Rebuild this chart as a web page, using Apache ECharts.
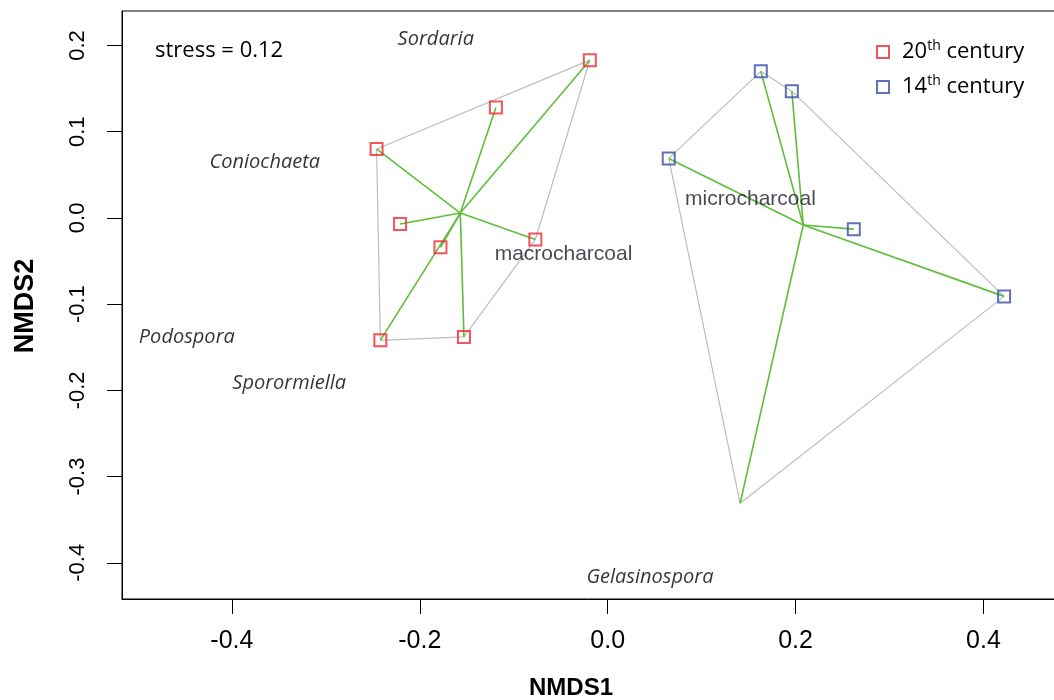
<!DOCTYPE html>
<html>
<head>
<meta charset="utf-8">
<script src="https://cdn.jsdelivr.net/npm/echarts@6/dist/echarts.min.js"></script>
<style>html,body{margin:0;padding:0;background:#fff}#c{width:1054px;height:700px}</style>
</head>
<body>
<div id="c"></div>
<script>
// ---- Data ----
// 20th century sites (NMDS1, NMDS2)
var c20x = [-0.019, -0.119, -0.246, -0.221, -0.178, -0.077, -0.242, -0.153];
var c20y = [0.183, 0.128, 0.080, -0.007, -0.034, -0.025, -0.142, -0.138];
// 14th century sites with a visible marker
var c14x = [0.163, 0.196, 0.065, 0.262, 0.422];
var c14y = [0.170, 0.147, 0.069, -0.013, -0.091];
// 14th century site drawn without a marker (hull/spider vertex only)
var c14xExtra = [0.141];
var c14yExtra = [-0.331];
// Species scores (labels)
var speciesNames = ['Sordaria', 'Coniochaeta', 'Podospora', 'Sporormiella', 'Gelasinospora'];
var speciesX = [-0.183, -0.365, -0.448, -0.339, 0.045];
var speciesY = [0.207, 0.064, -0.139, -0.192, -0.417];
// Environmental vector labels
var envNames = ['macrocharcoal', 'microcharcoal'];
var envX = [-0.047, 0.152];
var envY = [-0.042, 0.022];
// Tick labels
var xTicks = [-0.4, -0.2, 0.0, 0.2, 0.4];
var yTicks = [-0.4, -0.3, -0.2, -0.1, 0.0, 0.1, 0.2];
var legendNames = ['20th century', '14th century'];

// ---- helpers ----
function pts(xs, ys) { return xs.map(function (x, i) { return [x, ys[i]]; }); }
function centroid(p) {
  var sx = 0, sy = 0;
  p.forEach(function (q) { sx += q[0]; sy += q[1]; });
  return [sx / p.length, sy / p.length];
}
function hull(p) {
  var a = p.slice().sort(function (u, v) { return u[0] - v[0] || u[1] - v[1]; });
  function cross(o, u, v) { return (u[0] - o[0]) * (v[1] - o[1]) - (u[1] - o[1]) * (v[0] - o[0]); }
  var lower = [], upper = [];
  a.forEach(function (q) {
    while (lower.length >= 2 && cross(lower[lower.length - 2], lower[lower.length - 1], q) <= 0) lower.pop();
    lower.push(q);
  });
  for (var i = a.length - 1; i >= 0; i--) {
    var q = a[i];
    while (upper.length >= 2 && cross(upper[upper.length - 2], upper[upper.length - 1], q) <= 0) upper.pop();
    upper.push(q);
  }
  upper.pop(); lower.pop();
  var h = lower.concat(upper);
  h.push(h[0]);
  return h;
}

var p20 = pts(c20x, c20y);
var p14m = pts(c14x, c14y);
var p14 = p14m.concat(pts(c14xExtra, c14yExtra));
var cen20 = centroid(p20), cen14 = centroid(p14);

var RED = '#ee2a30', BLUE = '#3a4ca6', GREEN = '#5fbd3a', GRAY = '#bdbdbd';

var chart = echarts.init(document.getElementById('c'), null, { renderer: 'canvas' });
var rich = { sup: { fontSize: 14, verticalAlign: 'top', lineHeight: 26, fontFamily: 'Open Sans', color: '#000' } };

chart.setOption({
  animation: false,
  backgroundColor: '#fff',
  grid: { left: 122, top: 11, width: 946, height: 588, outerBoundsMode: 'none', containLabel: false,
    show: true, borderColor: '#000', borderWidth: 1, backgroundColor: 'transparent' },
  xAxis: {
    type: 'value', min: -0.517, max: 0.49,
    axisLine: { show: true, onZero: false, lineStyle: { color: '#000', width: 1 } },
    axisTick: { show: true, length: 15, lineStyle: { color: '#000' }, customValues: xTicks },
    axisLabel: { customValues: xTicks, fontSize: 25, fontFamily: 'Liberation Sans', color: '#000', margin: 30,
      formatter: function (v) { return v.toFixed(1); } },
    splitLine: { show: false }
  },
  yAxis: {
    type: 'value', min: -0.442, max: 0.24,
    axisLine: { show: true, onZero: false, lineStyle: { color: '#000', width: 1 } },
    axisTick: { show: true, length: 15, lineStyle: { color: '#000' }, customValues: yTicks },
    axisLabel: { customValues: yTicks, fontSize: 22, fontFamily: 'Liberation Sans', color: '#000', margin: 33, rotate: 90,
      formatter: function (v) { return v.toFixed(1); } },
    splitLine: { show: false }
  },
  legend: {
    orient: 'vertical', left: 871, top: 34, itemWidth: 12, itemHeight: 12, itemGap: 9,
    data: legendNames,
    formatter: function (n) { return n.replace(/^(\d+)th/, '$1{sup|th}'); },
    textStyle: { fontFamily: 'Open Sans', fontSize: 22, color: '#000', lineHeight: 26, padding: [0, 0, 0, 8], rich: rich }
  },
  graphic: [
    { type: 'text', left: 155, top: 40, style: { text: 'stress = 0.12', font: '22px "Open Sans"', fill: '#000' } },
    { type: 'text', x: 571, y: 688, style: { text: 'NMDS1', font: 'bold 24px "Liberation Sans"', fill: '#000', textAlign: 'center', textVerticalAlign: 'middle' } },
    { type: 'text', x: 26, y: 306, rotation: Math.PI / 2, style: { text: 'NMDS2', font: 'bold 27px "Liberation Sans"', fill: '#000', textAlign: 'center', textVerticalAlign: 'middle' } }
  ],
  series: [
    { type: 'line', data: hull(p20), symbol: 'none', lineStyle: { color: GRAY, width: 1.2 }, silent: true, z: 1 },
    { type: 'line', data: hull(p14), symbol: 'none', lineStyle: { color: GRAY, width: 1.2 }, silent: true, z: 1 },
    { type: 'lines', coordinateSystem: 'cartesian2d', silent: true, z: 2,
      lineStyle: { color: GREEN, width: 1.6, opacity: 1 },
      data: p20.map(function (q) { return { coords: [cen20, q] }; }).concat(p14.map(function (q) { return { coords: [cen14, q] }; })) },
    { name: legendNames[0], type: 'scatter', data: p20, symbol: 'rect', symbolSize: 12, z: 3,
      itemStyle: { color: 'rgba(255,255,255,0)', borderColor: RED, borderWidth: 2 } },
    { name: legendNames[1], type: 'scatter', data: p14m, symbol: 'rect', symbolSize: 12, z: 3,
      itemStyle: { color: 'rgba(255,255,255,0)', borderColor: BLUE, borderWidth: 2 } },
    { type: 'scatter', symbolSize: 0, silent: true, z: 4,
      data: speciesNames.map(function (n, i) { return { name: n, value: [speciesX[i], speciesY[i]] }; }),
      label: { show: true, position: 'inside', formatter: '{b}', fontFamily: 'Open Sans', fontStyle: 'italic', fontSize: 20, color: '#000' } },
    { type: 'scatter', symbolSize: 0, silent: true, z: 4,
      data: envNames.map(function (n, i) { return { name: n, value: [envX[i], envY[i]] }; }),
      label: { show: true, position: 'inside', formatter: '{b}', fontFamily: 'Liberation Sans', fontSize: 21, color: '#1a1a2a' } }
  ]
});
</script>
</body>
</html>
